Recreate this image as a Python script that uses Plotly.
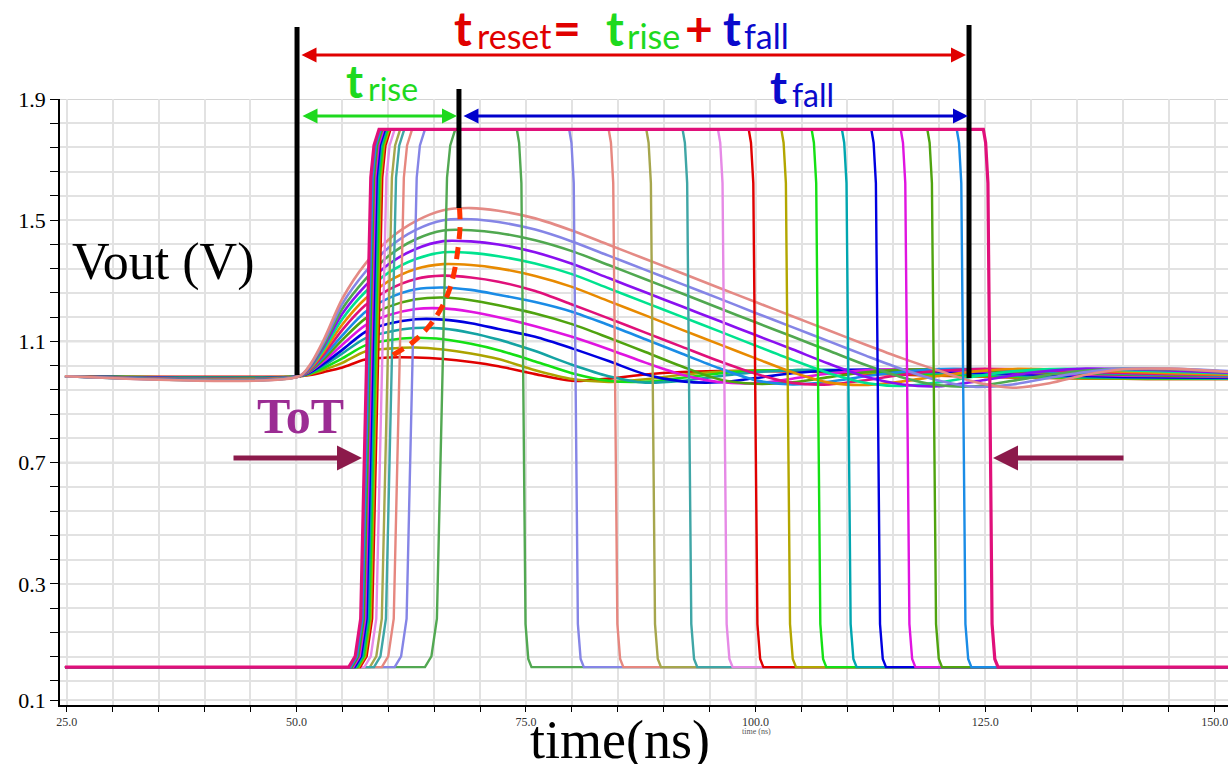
import plotly.graph_objects as go

# ---------------- data ----------------
# analog (shaper) outputs, common time grid in ns, values in V
T_ANALOG = [24.8, 50.3, 51.5, 53, 55, 57.5, 60, 63, 66, 69, 72, 76, 80, 84, 88, 92,
            96, 100, 104, 108, 112, 116, 120, 124, 128, 132, 136, 140, 145, 151.5]

V_RED = [0.985, 0.985, 0.989, 0.999, 1.014, 1.040, 1.047, 1.047, 1.042, 1.032, 1.018, 0.992, 0.970, 0.977, 0.991,
         0.999, 1.002, 1.003, 1.001, 0.998, 0.994, 0.990, 0.987, 0.984, 0.981, 0.979, 0.978, 0.977, 0.976, 0.976]
V_OLIVE = [0.985, 0.985, 0.992, 1.006, 1.029, 1.067, 1.076, 1.080, 1.073, 1.060, 1.042, 1.005, 0.976, 0.966, 0.975,
           0.990, 1.000, 1.004, 1.004, 1.001, 0.997, 0.993, 0.989, 0.985, 0.982, 0.980, 0.978, 0.977, 0.976, 0.976]
V_LIME = [0.985, 0.985, 0.994, 1.013, 1.044, 1.087, 1.104, 1.112, 1.107, 1.092, 1.071, 1.034, 0.995, 0.970, 0.967,
          0.980, 0.994, 1.003, 1.005, 1.004, 1.000, 0.996, 0.992, 0.988, 0.985, 0.982, 0.980, 0.979, 0.978, 0.977]
V_TEAL = [0.985, 0.985, 0.996, 1.021, 1.060, 1.110, 1.131, 1.144, 1.142, 1.128, 1.106, 1.068, 1.023, 0.985, 0.964,
          0.970, 0.985, 0.998, 1.005, 1.006, 1.004, 1.000, 0.996, 0.992, 0.988, 0.985, 0.982, 0.980, 0.979, 0.978]
V_BLUE = [0.985, 0.985, 0.998, 1.027, 1.072, 1.131, 1.158, 1.173, 1.172, 1.160, 1.141, 1.115, 1.077, 1.035, 0.991,
          0.968, 0.965, 0.979, 0.995, 1.004, 1.007, 1.005, 1.001, 0.997, 0.993, 0.989, 0.986, 0.983, 0.981, 0.980]
V_MAGENTA = [0.985, 0.985, 1.001, 1.035, 1.089, 1.153, 1.186, 1.207, 1.209, 1.198, 1.180, 1.150, 1.115, 1.074, 1.030,
             0.990, 0.966, 0.962, 0.977, 0.994, 1.005, 1.008, 1.006, 1.002, 0.998, 0.994, 0.990, 0.987, 0.985, 0.983]
V_YGREEN = [0.985, 0.985, 1.003, 1.042, 1.105, 1.175, 1.214, 1.239, 1.245, 1.236, 1.219, 1.192, 1.157, 1.112, 1.065,
            1.017, 0.975, 0.960, 0.965, 0.982, 0.998, 1.007, 1.008, 1.005, 1.001, 0.997, 0.993, 0.990, 0.987, 0.985]
V_DODGER = [0.985, 0.985, 1.006, 1.050, 1.120, 1.197, 1.242, 1.272, 1.278, 1.270, 1.254, 1.230, 1.198, 1.154, 1.107,
            1.059, 1.012, 0.972, 0.958, 0.967, 0.985, 1.000, 1.009, 1.009, 1.005, 1.001, 0.997, 0.993, 0.990, 0.987]
V_CRIMSON = [0.985, 0.985, 1.008, 1.058, 1.138, 1.219, 1.270, 1.306, 1.317, 1.311, 1.297, 1.266, 1.222, 1.176, 1.129,
             1.082, 1.035, 0.993, 0.963, 0.958, 0.972, 0.990, 1.003, 1.009, 1.008, 1.004, 1.000, 0.996, 0.992, 0.989]
V_ORANGE = [0.985, 0.985, 1.011, 1.067, 1.156, 1.241, 1.298, 1.339, 1.355, 1.352, 1.341, 1.316, 1.280, 1.233, 1.186,
            1.138, 1.091, 1.044, 0.998, 0.964, 0.956, 0.968, 0.986, 1.001, 1.009, 1.008, 1.004, 1.000, 0.995, 0.990]
V_SPRING = [0.985, 0.985, 1.014, 1.075, 1.174, 1.263, 1.326, 1.372, 1.394, 1.392, 1.381, 1.357, 1.322, 1.275, 1.228,
            1.181, 1.134, 1.086, 1.039, 0.995, 0.963, 0.953, 0.965, 0.985, 1.001, 1.009, 1.009, 1.005, 1.000, 0.994]
V_PURPLE = [0.985, 0.985, 1.016, 1.084, 1.191, 1.283, 1.354, 1.405, 1.431, 1.430, 1.420, 1.394, 1.356, 1.309, 1.262,
            1.215, 1.168, 1.121, 1.074, 1.026, 0.983, 0.958, 0.952, 0.968, 0.988, 1.003, 1.010, 1.009, 1.004, 0.997]
V_GREEN = [0.985, 0.985, 1.019, 1.091, 1.208, 1.305, 1.381, 1.437, 1.466, 1.467, 1.458, 1.434, 1.398, 1.352, 1.305,
           1.258, 1.210, 1.163, 1.116, 1.069, 1.022, 0.981, 0.955, 0.952, 0.970, 0.990, 1.004, 1.010, 1.008, 1.000]
V_PERI = [0.985, 0.985, 1.021, 1.099, 1.224, 1.329, 1.408, 1.468, 1.500, 1.503, 1.494, 1.469, 1.430, 1.383, 1.336,
          1.289, 1.242, 1.194, 1.147, 1.100, 1.053, 1.008, 0.970, 0.950, 0.958, 0.980, 0.999, 1.010, 1.010, 1.002]
V_SALMON = [0.985, 0.985, 1.024, 1.107, 1.241, 1.356, 1.435, 1.497, 1.533, 1.540, 1.531, 1.506, 1.466, 1.419, 1.372,
            1.325, 1.277, 1.230, 1.183, 1.136, 1.089, 1.044, 1.003, 0.965, 0.947, 0.962, 0.990, 1.008, 1.010, 0.999]

ANALOG_SERIES = [V_RED, V_OLIVE, V_LIME, V_TEAL, V_BLUE, V_MAGENTA, V_YGREEN, V_DODGER,
                 V_CRIMSON, V_ORANGE, V_SPRING, V_PURPLE, V_GREEN, V_PERI, V_SALMON]
ANALOG_COLORS = ["#e00000", "#aca300", "#14e014", "#14a3a3", "#0000e0", "#e014e0", "#4fa30f", "#1a8ce6",
                 "#e0107a", "#e88a00", "#00e38f", "#8a10f0", "#50a850", "#8585e6", "#e48a85"]

# digital (ToT comparator) pulses: rise start / fall start times in ns
PULSE_RISE = [64.0, 60.7, 59.3, 58.0, 58.45, 57.4, 56.95, 56.8, 56.65, 56.5, 56.35, 56.2, 56.05, 55.9, 55.7]
PULSE_FALL = [74.0, 79.7, 84.0, 88.1, 92.05, 95.9, 99.25, 102.8, 106.1, 109.4, 112.6, 115.8, 118.7, 121.9, 124.8]
PULSE_COLORS = ["#52a852", "#8585e6", "#e6877f", "#a6a64d", "#3fa6a6", "#e68ae6", "#e00000", "#b3a600",
                "#14e014", "#00a6b0", "#0000e0", "#e014e0", "#4fa30f", "#1a8ce6", "#e0107a"]
PULSE_LOW = 0.025
PULSE_HIGH = 1.8
T_START, T_END = 24.8, 151.5

# axis labels
X_TICK_VALS = [25, 50, 75, 100, 125, 150]
X_TICK_LABELS = ["25.0", "50.0", "75.0", "100.0", "125.0", "150.0"]
Y_TICK_VALS = [1.9, 1.5, 1.1, 0.7, 0.3, -0.085]
Y_TICK_LABELS = ["1.9", "1.5", "1.1", "0.7", "0.3", "0.1"]

# hand-drawn red dashed guide through the peaks (annotation)
GUIDE_T = [60.52, 62.70, 64.55, 65.85, 66.73, 67.27, 67.60, 67.82, 67.76]
GUIDE_V = [1.055, 1.098, 1.154, 1.214, 1.276, 1.342, 1.408, 1.478, 1.540]

# annotation markers (times in ns)
MARK_START, MARK_PEAK, MARK_END = 50.07, 67.7, 123.24

# ---------------- geometry / style ----------------
W, H = 1228, 764
ML, MR, MT, MB = 60, 0, 99, 59
PW, PH = W - ML - MR, H - MT - MB
SERIF = "Liberation Serif"
SANS = "Lato"


def xp(px):
    return (px - ML) / PW


def yp(py):
    return (H - MB - py) / PH


fig = go.Figure()

for vals, col in zip(ANALOG_SERIES, ANALOG_COLORS):
    fig.add_trace(go.Scatter(x=T_ANALOG, y=vals, mode="lines", hoverinfo="skip",
                             line=dict(color=col, width=2.6, shape="spline", smoothing=0.8)))

RISE_EDGE = [(0.0, 0.0), (0.7, 0.02), (1.3, 0.09), (2.4, 0.91), (2.75, 0.97), (3.3, 1.0)]
FALL_EDGE = [(0.0, 1.0), (0.25, 0.975), (0.5, 0.9), (0.95, 0.08), (1.25, 0.015), (1.6, 0.0)]
swing = PULSE_HIGH - PULSE_LOW
for i, (r, f, col) in enumerate(zip(PULSE_RISE, PULSE_FALL, PULSE_COLORS)):
    xs = [T_START] + [r + d for d, _ in RISE_EDGE] + [f + d for d, _ in FALL_EDGE] + [T_END]
    ys = ([PULSE_LOW] + [PULSE_LOW + s * swing for _, s in RISE_EDGE]
          + [PULSE_LOW + s * swing for _, s in FALL_EDGE] + [PULSE_LOW])
    fig.add_trace(go.Scatter(x=xs, y=ys, mode="lines", hoverinfo="skip",
                             line=dict(color=col, width=3.2 if i == len(PULSE_RISE) - 1 else 2.4)))

fig.add_trace(go.Scatter(x=GUIDE_T, y=GUIDE_V, mode="lines", hoverinfo="skip",
                         line=dict(color="#ff3300", width=5, dash="12px,8px", shape="spline")))

# ---------------- axes ----------------
x_grid = [25 + 5 * i for i in range(26)]
x_text = [X_TICK_LABELS[X_TICK_VALS.index(v)] if v in X_TICK_VALS else "" for v in x_grid]
y_grid = [round(1.9 - 0.08 * i, 2) for i in range(25)] + [Y_TICK_VALS[-1]]
y_text = []
for v in y_grid:
    lab = ""
    for tv, tl in zip(Y_TICK_VALS, Y_TICK_LABELS):
        if abs(tv - v) < 1e-6:
            lab = tl
    y_text.append(lab)

fig.update_xaxes(range=[24.26, 151.44], tickmode="array", tickvals=x_grid, ticktext=x_text,
                 automargin=False, ticklabeloverflow="allow",
                 ticks="outside", ticklen=5, tickwidth=1, tickcolor="black",
                 showline=True, linecolor="black", linewidth=1.5, mirror=False,
                 showgrid=True, gridcolor="#e2e2e2", gridwidth=1.5, zeroline=False,
                 tickfont=dict(family=SERIF, size=12, color="#333333"))
fig.update_yaxes(range=[-0.1, 1.9], tickmode="array", tickvals=y_grid, ticktext=y_text,
                 automargin=False,
                 ticks="outside", ticklen=8, tickwidth=1, tickcolor="black",
                 showline=True, linecolor="black", linewidth=1.5,
                 showgrid=True, gridcolor="#e2e2e2", gridwidth=1.5, zeroline=False,
                 tickfont=dict(family=SERIF, size=22, color="black"))

shapes = []
for v in X_TICK_VALS:
    shapes.append(dict(type="line", xref="x", yref="paper", x0=v, x1=v, y0=0, y1=1,
                       line=dict(color="#c6c6c6", width=1.5), layer="below"))
for v in Y_TICK_VALS[:-1]:
    shapes.append(dict(type="line", xref="paper", yref="y", x0=0, x1=1, y0=v, y1=v,
                       line=dict(color="#c6c6c6", width=1.5), layer="below"))
# black markers
for t, ptop, pbot in [(MARK_START, 27, 375), (MARK_PEAK, 89, 208), (MARK_END, 25, 378)]:
    shapes.append(dict(type="line", xref="x", yref="paper", x0=t, x1=t, y0=yp(pbot), y1=yp(ptop),
                       line=dict(color="black", width=5), layer="above"))
fig.update_layout(shapes=shapes)


def arrow(x0, x1, y, color, width, size, both=True):
    fig.add_annotation(x=xp(x1), y=yp(y), xref="paper", yref="paper", ax=x0 - x1, ay=0,
                       axref="pixel", ayref="pixel", text="", showarrow=True,
                       arrowhead=2, startarrowhead=2, arrowside="end+start" if both else "end",
                       arrowsize=size, startarrowsize=size, arrowwidth=width, arrowcolor=color)


arrow(300, 966, 55, "#e00000", 3, 1.0)
arrow(301, 457, 116, "#1ed91e", 3, 1.0)
arrow(462, 968, 116, "#0000cc", 3, 1.0)
arrow(232, 362, 458, "#8c1a4b", 5, 1.0, both=False)
arrow(1125, 993, 458, "#8c1a4b", 5, 1.0, both=False)


def label(x, y, text, size, color, family=SERIF, xanchor="center"):
    fig.add_annotation(x=xp(x), y=yp(y), xref="paper", yref="paper", text=text, showarrow=False,
                       font=dict(family=family, size=size, color=color), xanchor=xanchor, yanchor="middle")


RED, GRN, BLU = "#e00000", "#1ed91e", "#0a0acc"
label(452, 28, "<b>t</b>", 48, RED, SANS, "left")
label(475, 35, "reset", 34, RED, SANS, "left")
label(551, 28, "<b>=</b>", 48, RED, SANS, "left")
label(604, 28, "<b>t</b>", 48, GRN, SANS, "left")
label(625, 35, "rise", 34, GRN, SANS, "left")
label(683, 28, "<b>+</b>", 48, RED, SANS, "left")
label(721, 28, "<b>t</b>", 48, BLU, SANS, "left")
label(742, 35, "fall", 34, BLU, SANS, "left")

label(344, 81, "<b>t</b>", 46, GRN, SANS, "left")
label(366, 88, "rise", 32, GRN, SANS, "left")
label(768, 87, "<b>t</b>", 46, BLU, SANS, "left")
label(790, 95, "fall", 32, BLU, SANS, "left")

label(163, 262, "Vout (V)", 52, "black")
label(620, 740, "time(ns)", 54, "black")
label(300, 416, "<b>ToT</b>", 50, "#9b2c93")
label(756, 731, "time (ns)", 8, "#555555")

fig.update_layout(width=W, height=H, margin=dict(l=ML, r=MR, t=MT, b=MB),
                  paper_bgcolor="white", plot_bgcolor="white", showlegend=False)

fig.write_html("out.html", config={"displayModeBar": False},
               post_script="document.body.style.margin='0px';")
